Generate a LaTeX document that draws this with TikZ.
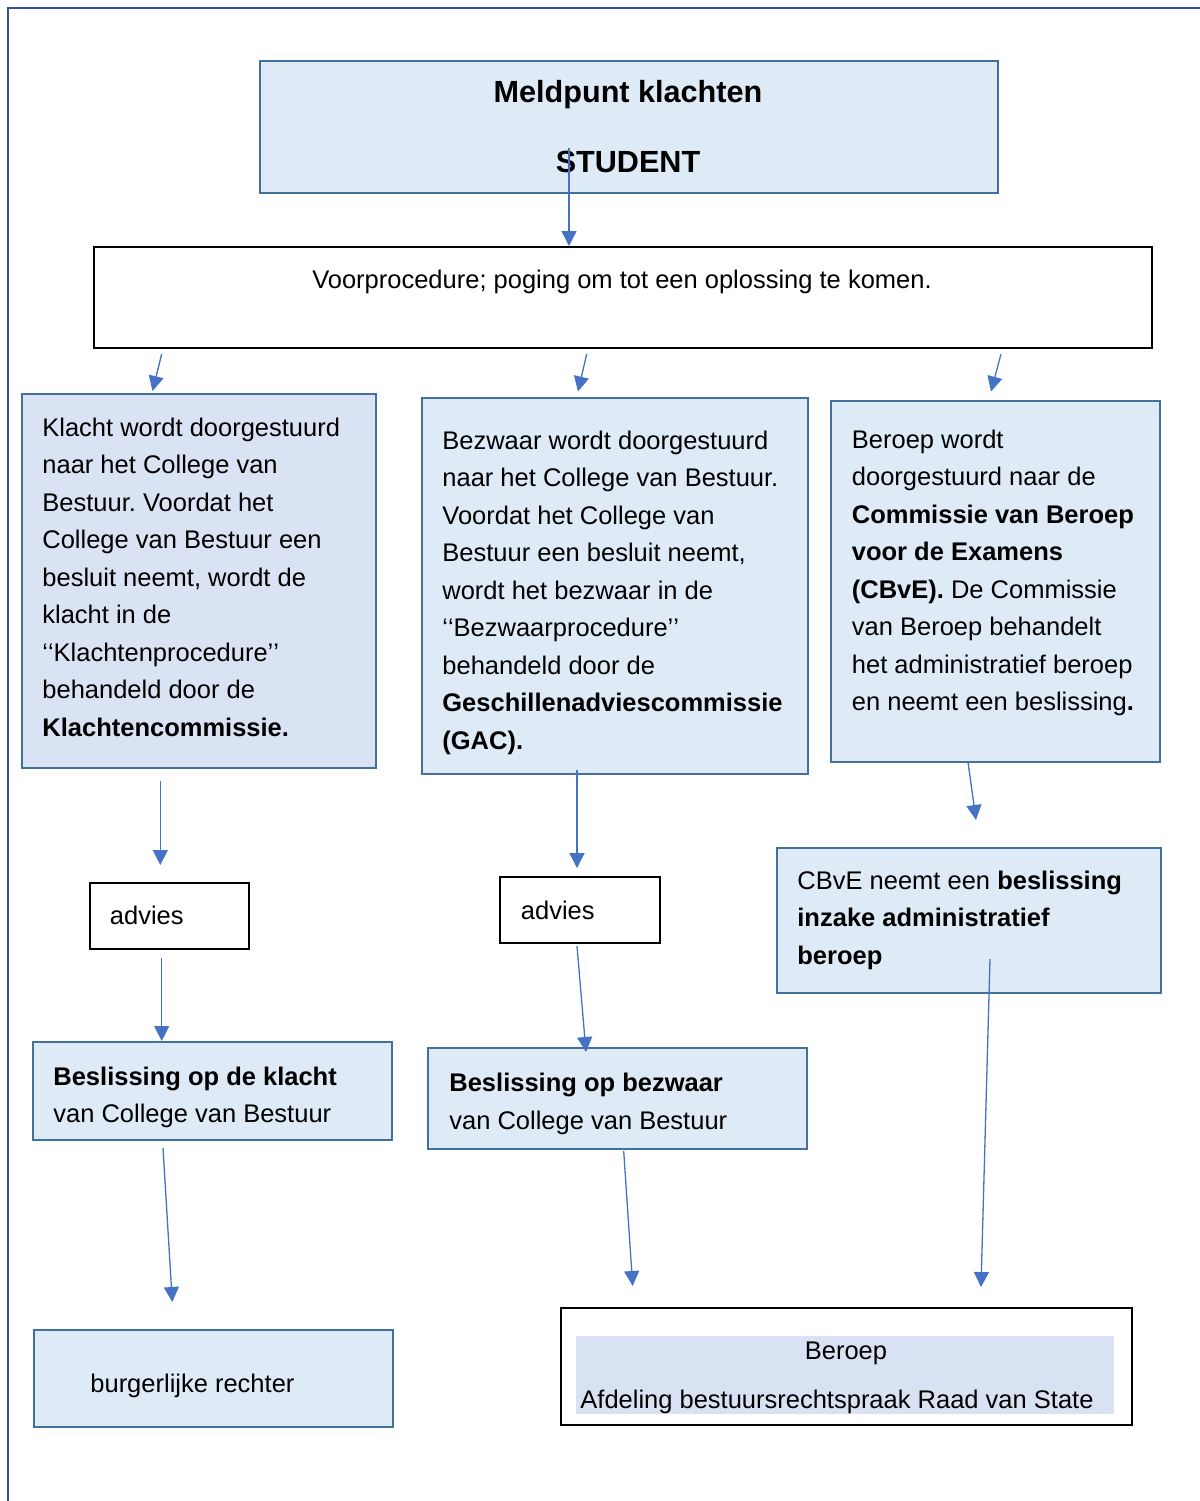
\documentclass[tikz,border=0pt]{standalone}
\usepackage{fontspec}
\setmainfont{Liberation Sans}
\usetikzlibrary{arrows.meta}
\definecolor{boxfill}{HTML}{DEEBF7}
\definecolor{boxfillb}{HTML}{DAE3F3}
\definecolor{boxline}{HTML}{41719C}
\definecolor{arrcol}{HTML}{4472C4}
\definecolor{framecol}{HTML}{2F5496}
\definecolor{shadecol}{HTML}{D9E2F3}
\frenchspacing
\begin{document}
\begin{tikzpicture}[x=0.5pt,y=-0.5pt,
  bluebox/.style={draw=boxline, fill=boxfill, line width=1.2pt, inner sep=0pt, anchor=north west},
  whitebox/.style={draw=black, fill=white, line width=1pt, inner sep=0pt, anchor=north west},
  txt/.style={inner sep=0pt, anchor=north west, align=left, font=\fontsize{12.75}{18.75}\selectfont},
  line/.style={inner sep=0pt, anchor=base west, font=\fontsize{12.75}{18.75}\selectfont},
  titletxt/.style={inner sep=0pt, anchor=base, font=\fontsize{15.3}{18}\selectfont\bfseries},
  arr/.style={draw=arrcol, line width=0.65pt, -{Triangle[length=7.5pt,width=7.5pt]}}]
\useasboundingbox (0,0) rectangle (1200,1501);
\fill[white] (0,0) rectangle (1200,1501);
% outer frame
\draw[framecol, line width=1.2pt] (8,1501) -- (8,8) -- (1200,8);
% boxes
\node[bluebox, minimum width=369pt, minimum height=66pt] (top) at (259,60) {};
\node[whitebox, minimum width=529pt, minimum height=50.5pt] (voor) at (93,246) {};
\node[bluebox, fill=boxfillb, minimum width=177pt, minimum height=187pt] (klacht) at (21,393) {};
\node[bluebox, minimum width=193pt, minimum height=188pt] (bezwaar) at (421,397) {};
\node[bluebox, minimum width=164.5pt, minimum height=180.5pt] (beroep) at (830,400) {};
\node[whitebox, minimum width=79.5pt, minimum height=33pt] (adv1) at (89,882) {};
\node[whitebox, minimum width=80pt, minimum height=33pt] (adv2) at (499,876) {};
\node[bluebox, minimum width=192pt, minimum height=72.5pt] (cbve) at (776,847) {};
\node[bluebox, minimum width=179.5pt, minimum height=49pt] (bes1) at (32,1041) {};
\node[bluebox, minimum width=189.5pt, minimum height=50.5pt] (bes2) at (427,1047) {};
\node[bluebox, minimum width=179.5pt, minimum height=48.5pt] (burg) at (33,1329) {};
\node[whitebox, minimum width=285.5pt, minimum height=58.5pt] (rvs) at (560,1307) {};
\node[fill=shadecol, inner sep=0pt, anchor=north west, minimum width=269pt, minimum height=39pt] (rvsshade) at (576,1336) {};
% texts
\node[titletxt] (t1) at (628,102) {Meldpunt klachten};
\node[titletxt] (t2) at (628,172) {STUDENT};
\node[line, anchor=base] (tvoor) at (622,288) {Voorprocedure; poging om tot een oplossing te komen.};
\node[txt] (tklacht) at (42,409.5) {\strut Klacht wordt doorgestuurd\\naar het College van\\Bestuur. Voordat het\\College van Bestuur een\\besluit neemt, wordt de\\klacht in de\\‘\kern0pt‘Klachtenprocedure’\kern0pt’\\behandeld door de\\\textbf{Klachtencommissie.}};
\node[txt] (tbezwaar) at (442,422.5) {\strut Bezwaar wordt doorgestuurd\\naar het College van Bestuur.\\Voordat het College van\\Bestuur een besluit neemt,\\wordt het bezwaar in de\\‘\kern0pt‘Bezwaarprocedure’\kern0pt’\\behandeld door de\\\textbf{Geschillenadviescommissie}\\\textbf{(GAC).}};
\node[txt] (tberoep) at (851.5,421.5) {\strut Beroep wordt\\doorgestuurd naar de\\\textbf{Commissie van Beroep}\\\textbf{voor de Examens}\\\textbf{(CBvE).} De Commissie\\van Beroep behandelt\\het administratief beroep\\en neemt een beslissing\textbf{.}};
\node[line] (tadv1) at (109.5,924.5) {advies};
\node[line] (tadv2) at (520.5,919) {advies};
\node[txt] (tcbve) at (797,862.5) {\strut CBvE neemt een \textbf{beslissing}\\\textbf{inzake administratief}\\\textbf{beroep}};
\node[txt] (tbes1) at (53,1058.5) {\strut\textbf{Beslissing op de klacht}\\van College van Bestuur};
\node[txt] (tbes2) at (449,1065) {\strut\textbf{Beslissing op bezwaar}\\van College van Bestuur};
\node[line] (tburg) at (90,1392) {burgerlijke rechter};
\node[line, anchor=base] (trvs1) at (846,1359.5) {Beroep};
\node[line] (trvs2) at (580,1408.5) {Afdeling bestuursrechtspraak Raad van State};
% connector end points
\coordinate (a1s) at (569,148);
\coordinate (a2s) at (161.7,354);  \coordinate (a2e) at (152.5,391);
\coordinate (a3s) at (586.7,354);  \coordinate (a3e) at (578,391.5);
\coordinate (a4s) at (1001,354);   \coordinate (a4e) at (991,391.5);
\coordinate (a5s) at (160.3,781);  \coordinate (a5e) at (160.3,865);
\coordinate (a6s) at (577,769.5);  \coordinate (a6e) at (577,868);
\coordinate (a7s) at (968,762);    \coordinate (a7e) at (976,820);
\coordinate (a8s) at (161.7,958);  \coordinate (a8e) at (161.7,1041);
\coordinate (a9s) at (577,946);    \coordinate (a9e) at (586,1052);
\coordinate (a10s) at (990,959);   \coordinate (a10e) at (981,1287);
\coordinate (a11s) at (163,1148);  \coordinate (a11e) at (172.3,1302);
\coordinate (a12s) at (623.7,1151);\coordinate (a12e) at (632.7,1286);
% connectors
\draw[arr] (a1s) -- (a1s |- voor.north);
\draw[arr] (a2s) -- (a2e);
\draw[arr] (a3s) -- (a3e);
\draw[arr] (a4s) -- (a4e);
\draw[arr] (a5s) -- (a5e);
\draw[arr] (a6s) -- (a6e);
\draw[arr] (a7s) -- (a7e);
\draw[arr] (a8s) -- (a8e);
\draw[arr] (a9s) -- (a9e);
\draw[arr] (a10s) -- (a10e);
\draw[arr] (a11s) -- (a11e);
\draw[arr] (a12s) -- (a12e);
\end{tikzpicture}
\end{document}
